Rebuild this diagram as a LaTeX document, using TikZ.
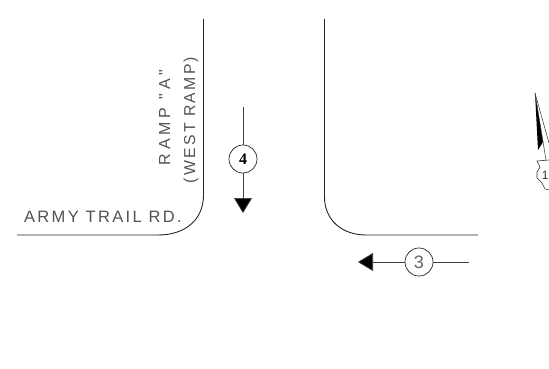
\documentclass[tikz,border=0pt]{standalone}
\usepackage{fontspec}
\usetikzlibrary{arrows.meta}
\setmainfont{Liberation Sans}
\newfontfamily\cadfont[LetterSpace=14]{Liberation Sans}
\newfontfamily\cadwide[LetterSpace=24]{Liberation Sans}
\newfontfamily\bubblefont{Liberation Serif}
\tikzset{
  curb/.style={draw=black!85,line width=0.9pt},
  flow/.style={draw=black!75,line width=0.6pt},
  flowhead/.style={flow,-{Triangle[length=15pt,width=18pt,fill=black]}},
  movebubble/.style={circle,draw=black!85,line width=0.7pt,fill=white,minimum size=28pt,inner sep=0pt},
  cadtext/.style={text=black!68,inner sep=0pt},
}
\begin{document}
\begin{tikzpicture}[x=1pt,y=-1pt]
\useasboundingbox (0,0) rectangle (549,369);
% curbs
\coordinate (la) at (203.5,19);
\coordinate (lb) at (17,235);
\draw[curb] (la) -- (203.5,195) .. controls (203.5,220) and (185,235) .. (158,235) -- (lb);
\coordinate (ra) at (324.5,19);
\coordinate (rb) at (478,235);
\draw[curb] (ra) -- (324.5,197) .. controls (324.5,220) and (342,235) .. (366,235) -- (rb);
% movement 4
\node[movebubble,font=\bubblefont\bfseries\fontsize{16}{17}\selectfont] (c4) at (243,159) {4};
\coordinate (t4) at (243,107);
\coordinate (e4) at (243,213);
\draw[flow] (t4) -- (c4);
\draw[flowhead] (c4) -- (e4);
% movement 3
\node[movebubble,font=\fontsize{18}{19}\selectfont,text=black!60] (c3) at (419,262) {3};
\coordinate (t3) at (469,262);
\coordinate (e3) at (358,262);
\draw[flow] (t3) -- (c3);
\draw[flowhead] (c3) -- (e3);
% labels
\node[cadtext,anchor=base west,font=\cadfont\fontsize{16.5}{17}\selectfont] (lab1) at (24,222) {ARMY TRAIL RD.};
\node[cadtext,rotate=90,anchor=base,font=\cadwide\fontsize{16}{17}\selectfont] (lab2) at (170,117.5) {RAMP "A"};
\node[cadtext,rotate=90,anchor=base,font=\cadfont\fontsize{15.8}{17}\selectfont] (lab3) at (195,120) {(WEST RAMP)};
% north arrow
\fill[black] (535,93) -- (543,142) -- (538,150) -- cycle;
\draw[black!80,line width=0.5pt] (535,93) -- (549,143);
\draw[black!80,line width=0.5pt] (535,93) -- (546,160);
\draw[black!80,line width=0.6pt] (549,160) -- (537,161) -- (540,167) -- (537,172) -- (537,178) -- (542,183) -- (545,189) -- (549,190);
\node[text=black!80,inner sep=0pt,anchor=east,font=\fontsize{12}{13}\selectfont] (north) at (548.8,175) {1};
\end{tikzpicture}
\end{document}
